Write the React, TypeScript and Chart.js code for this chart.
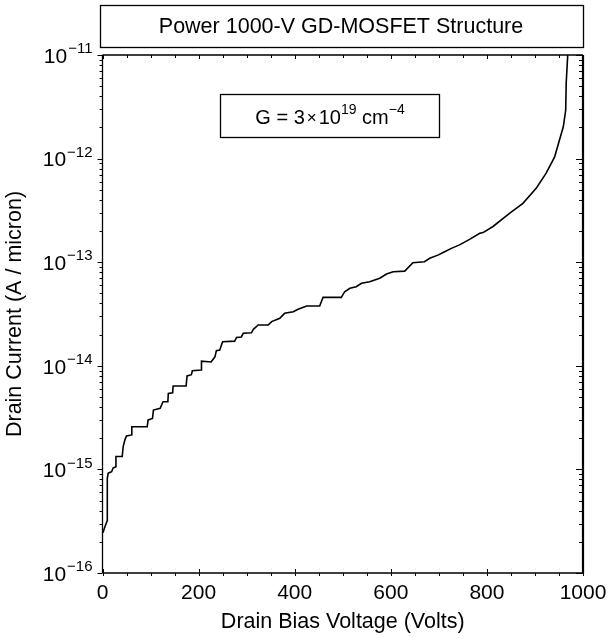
import React, { useEffect, useRef } from 'react';
import { Chart, registerables } from 'chart.js';

Chart.register(...registerables);

const FONT = '"Liberation Sans", Arial, Helvetica, sans-serif';

const titleText = 'Power 1000-V GD-MOSFET Structure';
const xAxisTitle = 'Drain Bias Voltage (Volts)';
const yAxisTitle = 'Drain Current (A / micron)';
const xTickValues = [0, 200, 400, 600, 800, 1000];
const yTickExponents = [-16, -15, -14, -13, -12, -11];
const annotationText = ['G = 3', '×', '10', '19', ' cm', '−4'];

const voltage = [
  1, 5, 10, 10, 12, 19, 22, 28, 28, 41, 43, 47, 50, 61, 61, 93, 95, 104, 106, 120,
  126, 136, 137, 146, 147, 174, 176, 185, 187, 205, 206, 226, 234, 237, 244, 250,
  275, 279, 289, 293, 310, 314, 324, 345, 352, 369, 379, 397, 407, 425, 452, 459,
  497, 504, 515, 528, 539, 556, 577, 591, 605, 629, 646, 670, 681, 698, 709, 726,
  743, 764, 785, 792, 812, 847, 875, 903, 923, 941, 951, 959, 964, 965, 968, 969,
];

const current = [
  2.45e-16, 2.8e-16, 3.2e-16, 8.2e-16, 9.2e-16, 9.5e-16, 1.03e-15, 1.06e-15, 1.33e-15,
  1.33e-15, 1.66e-15, 1.95e-15, 2.1e-15, 2.15e-15, 2.58e-15, 2.58e-15, 3.0e-15, 3.1e-15,
  3.74e-15, 3.89e-15, 4.5e-15, 4.5e-15, 5.42e-15, 5.5e-15, 6.38e-15, 6.38e-15, 7.98e-15,
  8.2e-15, 8.97e-15, 9.1e-15, 1.11e-14, 1.09e-14, 1.22e-14, 1.4e-14, 1.42e-14, 1.71e-14,
  1.73e-14, 1.88e-14, 1.9e-14, 2.06e-14, 2.08e-14, 2.25e-14, 2.48e-14, 2.48e-14, 2.67e-14,
  2.87e-14, 3.21e-14, 3.33e-14, 3.51e-14, 3.78e-14, 3.78e-14, 4.58e-14, 4.58e-14, 5.19e-14,
  5.6e-14, 5.8e-14, 6.26e-14, 6.48e-14, 7.0e-14, 7.7e-14, 8.1e-14, 8.2e-14, 9.9e-14,
  1.01e-13, 1.09e-13, 1.17e-13, 1.24e-13, 1.36e-13, 1.47e-13, 1.66e-13, 1.9e-13, 1.93e-13,
  2.2e-13, 2.96e-13, 3.7e-13, 5.2e-13, 7.2e-13, 1.04e-12, 1.51e-12, 2.03e-12, 2.94e-12,
  5.3e-12, 9.6e-12, 1.3e-11,
];

const decorPlugin = {
  id: 'decor',
  afterDraw(chart: any) {
    const { ctx, chartArea } = chart;
    const xs = chart.scales.x;
    const ys = chart.scales.y;
    const { left, right, top, bottom } = chartArea;
    ctx.save();
    ctx.strokeStyle = '#000';
    ctx.fillStyle = '#000';

    // frame
    ctx.lineWidth = 1.3;
    ctx.beginPath();
    ctx.moveTo(left, top);
    ctx.lineTo(right, top);
    ctx.moveTo(left, top);
    ctx.lineTo(left, bottom);
    ctx.moveTo(left, bottom);
    ctx.lineTo(right, bottom);
    ctx.stroke();
    ctx.lineWidth = 2.2;
    ctx.beginPath();
    ctx.moveTo(right, top);
    ctx.lineTo(right, bottom + 1);
    ctx.stroke();

    // x ticks
    ctx.lineWidth = 1;
    ctx.beginPath();
    for (let v = 0; v <= 1000; v += 50) {
      const px = Math.round(xs.getPixelForValue(v)) + 0.5;
      const major = v % 200 === 0;
      ctx.moveTo(px, bottom - (major ? 4 : 0));
      ctx.lineTo(px, bottom + 3);
      ctx.moveTo(px, top);
      ctx.lineTo(px, top + (major ? 4 : 3));
    }
    ctx.stroke();

    // y ticks
    ctx.beginPath();
    for (let e = -16; e <= -11; e++) {
      for (let m = 1; m <= 9; m++) {
        if (e === -11 && m > 1) break;
        const val = m * Math.pow(10, e);
        const py = Math.round(ys.getPixelForValue(val)) + 0.5;
        const major = m === 1;
        ctx.moveTo(left - (major ? 5 : 3), py);
        ctx.lineTo(left, py);
        ctx.moveTo(right, py);
        ctx.lineTo(right - (major ? 7 : 4), py);
      }
    }
    ctx.stroke();

    // y tick labels with superscripts
    ctx.textBaseline = 'middle';
    ctx.textAlign = 'left';
    for (const e of yTickExponents) {
      const py = ys.getPixelForValue(Math.pow(10, e));
      const base = '10';
      const sup = '−' + String(Math.abs(e));
      ctx.font = `21px ${FONT}`;
      const bw = ctx.measureText(base).width;
      ctx.font = `15px ${FONT}`;
      const sw = ctx.measureText(sup).width;
      const x0 = left - 11 - bw - sw;
      ctx.font = `21px ${FONT}`;
      ctx.fillText(base, x0, py + 2);
      ctx.font = `15px ${FONT}`;
      ctx.fillText(sup, x0 + bw + 1, py - 6);
    }

    // title box
    ctx.lineWidth = 1.3;
    ctx.strokeRect(100.5, 5.5, 483, 42);
    ctx.font = `21.5px ${FONT}`;
    ctx.textAlign = 'center';
    ctx.textBaseline = 'middle';
    ctx.fillText(titleText, 341, 27);

    // annotation box
    ctx.strokeRect(220.5, 94.5, 219, 43);
    const parts = annotationText;
    const fonts = [`20px ${FONT}`, `17px ${FONT}`, `20px ${FONT}`, `14px ${FONT}`, `20px ${FONT}`, `14px ${FONT}`];
    const dy = [0, 0, 0, -8, 0, -8];
    const gaps = [2, 2, 0, 0, 0, 0];
    let total = 0;
    const widths: number[] = [];
    parts.forEach((p, i) => {
      ctx.font = fonts[i];
      const w = ctx.measureText(p).width + gaps[i];
      widths.push(w);
      total += w;
    });
    let cx = 330 - total / 2;
    ctx.textAlign = 'left';
    parts.forEach((p, i) => {
      ctx.font = fonts[i];
      ctx.fillText(p, cx, 118 + dy[i]);
      cx += widths[i];
    });

    ctx.restore();
  },
};

export default function App() {
  const ref = useRef<HTMLCanvasElement | null>(null);
  useEffect(() => {
    if (!ref.current) return;
    const data = voltage.map((v, i) => ({ x: v, y: current[i] }));
    const chart = new Chart(ref.current, {
      type: 'line',
      data: {
        datasets: [
          {
            data,
            borderColor: '#000',
            borderWidth: 1.6,
            pointRadius: 0,
            fill: false,
            tension: 0,
          },
        ],
      },
      options: {
        animation: false,
        responsive: false,
        devicePixelRatio: 1,
        layout: { padding: { top: 55, right: 24, left: 0, bottom: 0 } },
        plugins: { legend: { display: false }, tooltip: { enabled: false } },
        scales: {
          x: {
            type: 'linear',
            min: 0,
            max: 1000,
            afterBuildTicks: (s: any) => {
              s.ticks = xTickValues.map((v) => ({ value: v }));
            },
            afterFit: (s: any) => {
              s.height = 65;
              s.paddingLeft = 0;
              s.paddingRight = 0;
            },
            grid: { display: false, drawTicks: false },
            border: { display: false },
            ticks: {
              autoSkip: false,
              maxRotation: 0,
              color: '#000',
              font: { family: FONT, size: 21 },
              padding: 8,
              callback: (v: any) => String(v),
            },
            title: {
              display: true,
              text: xAxisTitle,
              color: '#000',
              font: { family: FONT, size: 21.5 },
              padding: { top: 0, bottom: 3 },
            },
          },
          y: {
            type: 'logarithmic',
            min: 1e-16,
            max: 1e-11,
            afterFit: (s: any) => {
              s.width = 102.5;
            },
            grid: { display: false, drawTicks: false },
            border: { display: false },
            ticks: { display: false },
            title: {
              display: true,
              text: yAxisTitle,
              color: '#000',
              font: { family: FONT, size: 21.5 },
              padding: { top: 2, bottom: 0 },
            },
          },
        },
      },
      plugins: [decorPlugin],
    });
    return () => chart.destroy();
  }, []);
  return (
    <div style={{ position: 'fixed', left: 0, top: 0, width: 607, height: 638, background: '#fff' }}>
      <canvas ref={ref} width={607} height={638} />
    </div>
  );
}
